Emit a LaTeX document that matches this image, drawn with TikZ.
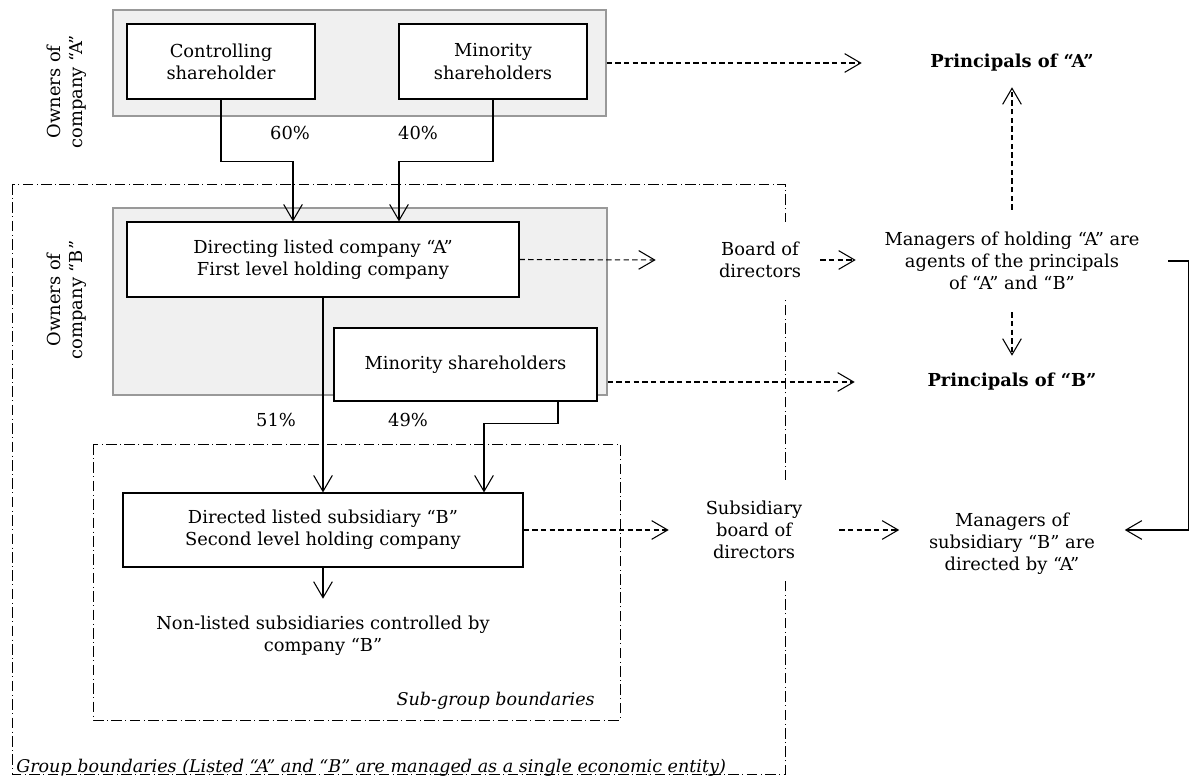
\documentclass[tikz,border=0pt]{standalone}
\usepackage{fontspec}
\setmainfont{DejaVu Serif}
\usetikzlibrary{arrows.meta,calc}
\begin{document}
\begin{tikzpicture}[x=0.75pt,y=-0.75pt,
  every node/.style={font=\fontsize{13.4}{16.6}\selectfont, align=center},
  box/.style={draw, line width=0.8pt, fill=white, inner sep=0pt},
  grp/.style={draw=black!40, fill=black!6, line width=0.8pt, inner sep=0pt},
  txt/.style={inner sep=0pt},
  lab/.style={txt, font=\fontsize{13.15}{16.6}\selectfont\itshape},
  arr/.style={line width=0.8pt, -{Straight Barb[length=12pt,width=14pt,line width=0.8pt]}},
  darr/.style={arr, dash pattern=on 4pt off 2.5pt},
  bound/.style={line width=0.7pt, dash pattern=on 8pt off 2.5pt on 0.8pt off 2.5pt},
]
\useasboundingbox (0,0) rectangle (1190,781);
% boundaries
\draw[bound] (12,184) rectangle (785,774);
\draw[bound] (93,444) rectangle (620,720);
% grey owner areas
\node[grp, minimum width=369.75pt, minimum height=79.5pt] (grayA) at (359.5,63) {};
\node[grp, minimum width=370.5pt, minimum height=140.25pt] (grayB) at (360,301.5) {};
% boxes
\node[box, minimum width=141pt, minimum height=56.25pt] (ctrl) at (221,61.5) {Controlling\\shareholder};
\node[box, minimum width=141pt, minimum height=56.25pt] (minA) at (493,61.5) {Minority\\shareholders};
\node[box, minimum width=294pt, minimum height=56.25pt] (dirA) at (323,259.5) {Directing listed company “A”\\First level holding company};
\node[box, minimum width=197.25pt, minimum height=54.75pt] (minB) at (465.5,364.5) {Minority shareholders};
\node[box, minimum width=300pt, minimum height=55.5pt] (dirB) at (323,530) {Directed listed subsidiary “B”\\Second level holding company};
% side labels
\node[rotate=90] (ownA) at (67,92) {Owners of\\company “A”};
\node[rotate=90] (ownB) at (67,300) {Owners of\\company “B”};
% percentages
\node (p60) at (290,133) {60\%};
\node (p40) at (418,133) {40\%};
\node (p51) at (276,420) {51\%};
\node (p49) at (408,420) {49\%};
% text nodes
\node[txt, minimum height=55.5pt] (nl) at (323,636) {Non-listed subsidiaries controlled by\\company “B”};
\node[txt, minimum width=225pt, minimum height=36pt] (pA) at (1012,63) {\textbf{Principals of “A”}};
\node[txt, minimum width=234pt, minimum height=76.5pt] (mgrA) at (1012,261) {Managers of holding “A” are\\agents of the principals\\of “A” and “B”};
\node[txt, minimum width=235.5pt, minimum height=39pt] (pB) at (1012,382) {\textbf{Principals of “B”}};
\node[txt, fill=white, minimum width=156pt, minimum height=57pt] (board) at (760,260) {Board of\\directors};
\node[txt, fill=white, minimum width=127.5pt, minimum height=75pt] (sboard) at (754,530) {Subsidiary\\board of\\directors};
\node[txt, minimum width=168.75pt] (mgrB) at (1012,544) {Managers of\\subsidiary “B” are\\directed by “A”};
\node[lab, anchor=base west] (glab) at (16,772) {Group boundaries (Listed “A” and “B” are managed as a single economic entity)};
\node[lab, anchor=base east] (sglab) at (595,705) {Sub-group boundaries};
% ownership arrows
\draw[arr] (ctrl.south) -- ++(0,62) -| ([xshift=-22.5pt]dirA.north);
\draw[arr] (minA.south) -- ++(0,62) -| ([xshift=57pt]dirA.north);
\draw[arr] (dirA.south) -- (dirB.north);
\draw[arr] ([xshift=69.375pt]minB.south) -- ++(0,22) -| ([xshift=120.75pt]dirB.north);
\draw[arr] (dirB.south) -- (dirB.south |- nl.north);
% agency arrows
\draw[darr] (grayA.east) -- (pA.west);
\draw[darr] (dirA.east) -- (board.west);
\draw[darr] ([xshift=-33pt]board.east) -- (board.east -| mgrA.west);
\draw[darr] (grayB.east |- pB.west) -- (pB.west);
\draw[darr] (mgrA.north) -- (pA.south);
\draw[darr] (mgrA.south) -- (pB.north);
\draw[darr] (dirB.east) -- (sboard.west);
\draw[darr] (sboard.east) -- (sboard.east -| mgrB.west);
\draw[arr] (mgrA.east) -- ++(20,0) |- (mgrB.east |- sboard.east);
\end{tikzpicture}
\end{document}
